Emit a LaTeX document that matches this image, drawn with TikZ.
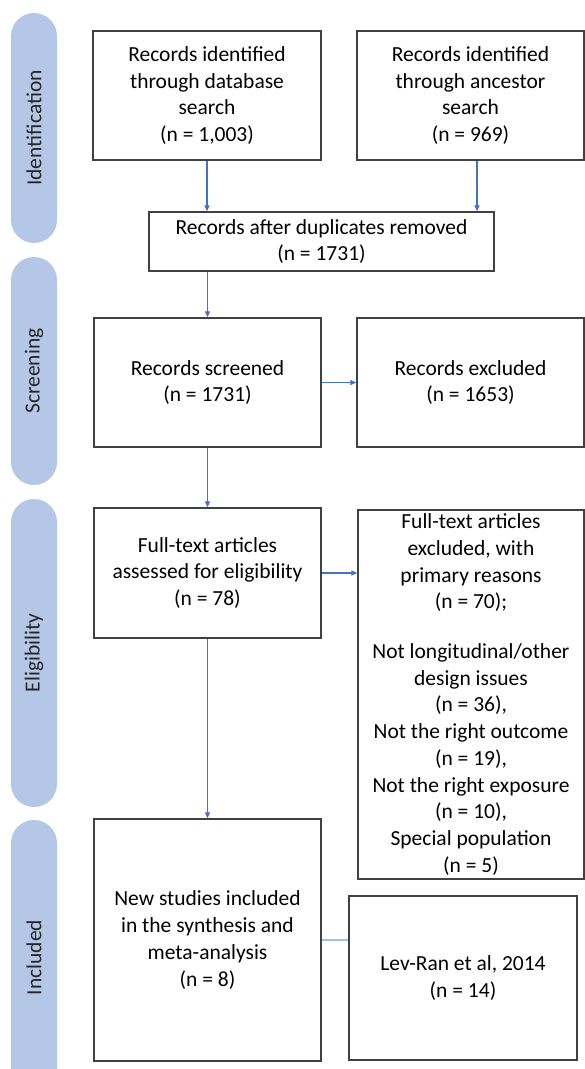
\documentclass[tikz,border=0pt]{standalone}
\usepackage{fontspec}
\setmainfont{Carlito}
\usetikzlibrary{arrows.meta}
\definecolor{phaseblue}{HTML}{B4C7E7}
\definecolor{arrowblue}{HTML}{4472C4}
\definecolor{linkblue}{HTML}{9DC3E6}
\definecolor{boxgray}{HTML}{404040}
\tikzset{
  box/.style={draw=boxgray, line width=1.3pt, align=center, inner sep=2pt, font={\fontsize{21.5}{26.7}\selectfont}},
  phase/.style={fill=phaseblue, rounded corners=23pt, minimum height=46pt, rotate=90, text=black!85, font={\fontsize{21.5}{26.7}\selectfont}},
  flow/.style={draw=arrowblue, line width=1.2pt, -{Triangle[length=6pt,width=5pt]}},
  link/.style={draw=linkblue, line width=1.2pt}
}
\begin{document}
\begin{tikzpicture}[x=1pt,y=-1pt]
\useasboundingbox (0,0) rectangle (585,1069);
% Phase labels
\node[phase, minimum width=230] (identification) at (34,128) {Identification};
\node[phase, minimum width=228] (screening) at (34,371) {Screening};
\node[phase, minimum width=308] (eligibility) at (34,653) {Eligibility};
\node[phase, minimum width=275] (included) at (34,957.5) {Included};
% Boxes
\node[box, minimum width=228, minimum height=129] (database-search) at (207,95.5) {Records identified\\through database\\search\\(n = 1,003)};
\node[box, minimum width=227, minimum height=129] (ancestor-search) at (470.5,95.5) {Records identified\\through ancestor\\search\\(n = 969)};
\node[box, minimum width=345, minimum height=59] (duplicates-removed) at (321.5,241.5) {Records after duplicates removed\\(n = 1731)};
\node[box, minimum width=227, minimum height=129] (records-screened) at (207.5,382.5) {Records screened\\(n = 1731)};
\node[box, minimum width=227, minimum height=129] (records-excluded) at (470.5,382.5) {Records excluded\\(n = 1653)};
\node[box, minimum width=227, minimum height=130] (fulltext-assessed) at (207.5,573) {Full-text articles\\assessed for eligibility\\(n = 78)};
\node[box, minimum width=226, minimum height=369] (fulltext-excluded) at (471,694.5) {Full-text articles\\excluded, with\\primary reasons\\(n = 70);\\[23pt]Not longitudinal/other\\design issues\\(n = 36),\\Not the right outcome\\(n = 19),\\Not the right exposure\\(n = 10),\\Special population\\(n = 5)};
\node[box, minimum width=227, minimum height=242] (studies-included) at (207.5,940) {New studies included\\in the synthesis and\\meta-analysis\\(n = 8)};
\node[box, minimum width=228, minimum height=164] (lev-ran) at (463,978) {Lev-Ran et al, 2014\\(n = 14)};
% Coordinates
\coordinate (ancestor-out) at ([xshift=6.5pt]ancestor-search.south);
% Arrows
\draw[flow] (database-search.south) -- (database-search.south |- duplicates-removed.north);
\draw[flow] (ancestor-out) -- (ancestor-out |- duplicates-removed.north);
\draw[flow] (records-screened.north |- duplicates-removed.south) -- (records-screened.north);
\draw[flow] (records-screened.east) -- (records-excluded.west);
\draw[flow] (records-screened.south) -- (fulltext-assessed.north);
\draw[flow] (fulltext-assessed.east) -- (fulltext-assessed.east -| fulltext-excluded.west);
\draw[flow] (fulltext-assessed.south) -- (studies-included.north);
\draw[link] (studies-included.east) -- (studies-included.east -| lev-ran.west);
\end{tikzpicture}
\end{document}
